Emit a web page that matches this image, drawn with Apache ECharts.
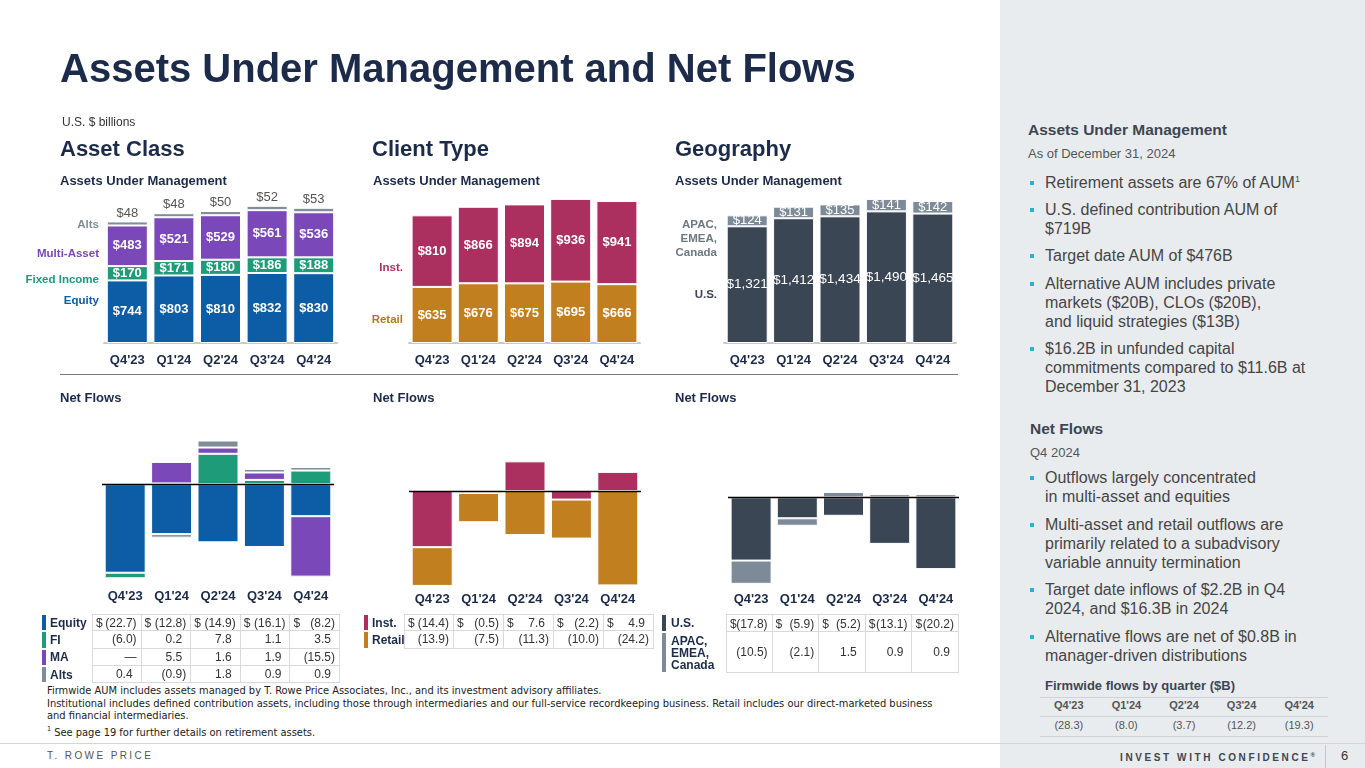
<!DOCTYPE html>
<html>
<head>
<meta charset="utf-8">
<script src="https://cdn.jsdelivr.net/npm/echarts@6/dist/echarts.min.js"></script>
<style>
  html,body{margin:0;padding:0;background:#fff;}
  body{width:1365px;height:768px;position:relative;overflow:hidden;font-family:"Liberation Sans",Arial,sans-serif;}
  #side{position:absolute;left:1000px;top:0;width:365px;height:768px;background:#e9ecef;}
  #chart{position:absolute;left:0;top:0;width:1000px;height:620px;z-index:1;}
  .txt{position:absolute;white-space:nowrap;z-index:2;}
  .navy{color:#1c2b49;}
  .bul{position:absolute;left:1045px;font-size:16px;line-height:19px;color:#454545;white-space:nowrap;z-index:2;}
  .bul:before{content:"";position:absolute;left:-15px;top:8px;width:4px;height:4px;background:#2bb0d2;}
  .cell{position:absolute;z-index:2;font-size:12px;color:#333;box-sizing:border-box;border-right:1px solid #d9d9d9;border-bottom:1px solid #d9d9d9;}
  .cell .d{position:absolute;left:3px;}
  .cell .v{position:absolute;right:4px;}
  .lab{position:absolute;z-index:2;font-size:12px;font-weight:bold;color:#1c2b49;white-space:nowrap;}
  .bar{position:absolute;z-index:2;}
</style>
</head>
<body>
<div id="side"></div>
<div id="chart"></div>

<!-- Titles -->
<div class="txt navy" style="left:60px;top:48px;font-size:40px;line-height:40px;font-weight:bold;">Assets Under Management and Net Flows</div>
<div class="txt" style="left:62px;top:115px;font-size:12px;line-height:14px;color:#333;">U.S. $ billions</div>
<div class="txt navy" style="left:60px;top:137px;font-size:22px;line-height:24px;font-weight:bold;">Asset Class</div>
<div class="txt navy" style="left:372px;top:137px;font-size:22px;line-height:24px;font-weight:bold;">Client Type</div>
<div class="txt navy" style="left:675px;top:137px;font-size:22px;line-height:24px;font-weight:bold;">Geography</div>
<div class="txt navy" style="left:60px;top:173px;font-size:13px;line-height:15px;font-weight:bold;">Assets Under Management</div>
<div class="txt navy" style="left:373px;top:173px;font-size:13px;line-height:15px;font-weight:bold;">Assets Under Management</div>
<div class="txt navy" style="left:675px;top:173px;font-size:13px;line-height:15px;font-weight:bold;">Assets Under Management</div>
<div class="txt" style="left:60px;top:374px;width:898px;height:0;border-top:1.5px solid #7a7a7a;"></div>
<div class="txt navy" style="left:60px;top:390px;font-size:13px;line-height:15px;font-weight:bold;">Net Flows</div>
<div class="txt navy" style="left:373px;top:390px;font-size:13px;line-height:15px;font-weight:bold;">Net Flows</div>
<div class="txt navy" style="left:675px;top:390px;font-size:13px;line-height:15px;font-weight:bold;">Net Flows</div>

<!-- Left axis legends -->
<div class="txt" style="left:0;width:99px;text-align:right;top:217px;font-size:11.5px;line-height:14px;font-weight:bold;color:#7f8c99;">Alts</div>
<div class="txt" style="left:0;width:99px;text-align:right;top:246px;font-size:11.5px;line-height:14px;font-weight:bold;color:#7b47b8;">Multi-Asset</div>
<div class="txt" style="left:0;width:99px;text-align:right;top:272px;font-size:11.5px;line-height:14px;font-weight:bold;color:#1a9b7a;">Fixed Income</div>
<div class="txt" style="left:0;width:99px;text-align:right;top:293px;font-size:11.5px;line-height:14px;font-weight:bold;color:#0b5da7;">Equity</div>
<div class="txt" style="left:300px;width:103px;text-align:right;top:260px;font-size:11.5px;line-height:14px;font-weight:bold;color:#ad3060;">Inst.</div>
<div class="txt" style="left:300px;width:103px;text-align:right;top:312px;font-size:11.5px;line-height:14px;font-weight:bold;color:#b07a1f;">Retail</div>
<div class="txt" style="left:600px;width:117px;text-align:right;top:217px;font-size:11.5px;line-height:14px;font-weight:bold;color:#6d7883;">APAC,<br>EMEA,<br>Canada</div>
<div class="txt" style="left:600px;width:117px;text-align:right;top:287px;font-size:11.5px;line-height:14px;font-weight:bold;color:#3b4654;">U.S.</div>

<!-- Footnotes -->
<div class="txt" style="left:47px;top:685px;font-size:11px;line-height:12.7px;color:#222;font-family:'Liberation Sans Narrow','DejaVu Sans Condensed',sans-serif;">
Firmwide AUM includes assets managed by T. Rowe Price Associates, Inc., and its investment advisory affiliates.<br>
Institutional includes defined contribution assets, including those through intermediaries and our full-service recordkeeping business. Retail includes our direct-marketed business<br>
and financial intermediaries.<br>
<sup style="font-size:7px;">1</sup> See page 19 for further details on retirement assets.
</div>
<div class="txt" style="left:0;top:743px;width:1365px;height:0;border-top:1px solid #d4d4d4;"></div>
<div class="txt" style="left:47px;top:750px;font-size:10px;line-height:11px;letter-spacing:2.4px;color:#555;">T. ROWE PRICE</div>
<div class="txt" style="left:1120px;top:750px;font-size:10px;line-height:11px;letter-spacing:2.6px;font-weight:bold;color:#3e4651;">INVEST WITH CONFIDENCE<sup style="font-size:6px;">®</sup></div>
<div class="txt" style="left:1325px;top:745px;width:0;height:23px;border-left:1px solid #c6c6c6;"></div>
<div class="txt" style="left:1341px;top:748px;font-size:13px;line-height:15px;color:#333;">6</div>

<!-- Sidebar -->
<div class="txt" style="left:1028px;top:121px;font-size:15.5px;line-height:18px;font-weight:bold;color:#3e4651;">Assets Under Management</div>
<div class="txt" style="left:1028px;top:146px;font-size:13px;line-height:15px;color:#555;">As of December 31, 2024</div>
<div class="bul" style="top:173px;">Retirement assets are 67% of AUM<sup style="font-size:9px;line-height:0;">1</sup></div>
<div class="bul" style="top:200px;">U.S. defined contribution AUM of<br>$719B</div>
<div class="bul" style="top:246px;">Target date AUM of $476B</div>
<div class="bul" style="top:274px;">Alternative AUM includes private<br>markets ($20B), CLOs ($20B),<br>and liquid strategies ($13B)</div>
<div class="bul" style="top:339px;">$16.2B in unfunded capital<br>commitments compared to $11.6B at<br>December 31, 2023</div>
<div class="txt" style="left:1030px;top:420px;font-size:15.5px;line-height:18px;font-weight:bold;color:#3e4651;">Net Flows</div>
<div class="txt" style="left:1030px;top:445px;font-size:13px;line-height:15px;color:#555;">Q4 2024</div>
<div class="bul" style="top:468px;">Outflows largely concentrated<br>in multi-asset and equities</div>
<div class="bul" style="top:515px;">Multi-asset and retail outflows are<br>primarily related to a subadvisory<br>variable annuity termination</div>
<div class="bul" style="top:580px;">Target date inflows of $2.2B in Q4<br>2024, and $16.3B in 2024</div>
<div class="bul" style="top:627px;">Alternative flows are net of $0.8B in<br>manager-driven distributions</div>
<div class="txt" style="left:1045px;top:678px;font-size:13px;line-height:15px;font-weight:bold;color:#3e4651;">Firmwide flows by quarter ($B)</div>
<div id="tables"></div>

<script>
// ---------- DATA ----------
const quarters = ["Q4'23", "Q1'24", "Q2'24", "Q3'24", "Q4'24"];
// AUM by asset class
const aumEquity = [744, 803, 810, 832, 830];
const aumFixedIncome = [170, 171, 180, 186, 188];
const aumMultiAsset = [483, 521, 529, 561, 536];
const aumAlts = [48, 48, 50, 52, 53];
// AUM by client type
const aumInst = [810, 866, 894, 936, 941];
const aumRetail = [635, 676, 675, 695, 666];
// AUM by geography
const aumUS = [1321, 1412, 1434, 1490, 1465];
const aumIntl = [124, 131, 135, 141, 142];
// Net flows by asset class
const flowEquity = [-22.7, -12.8, -14.9, -16.1, -8.2];
const flowFI = [-6.0, 0.2, 7.8, 1.1, 3.5];
const flowMA = [null, 5.5, 1.6, 1.9, -15.5];
const flowAlts = [0.4, -0.9, 1.8, 0.9, 0.9];
// Net flows by client type
const flowInst = [-14.4, -0.5, 7.6, -2.2, 4.9];
const flowRetail = [-13.9, -7.5, -11.3, -10.0, -24.2];
// Net flows by geography
const flowUS = [-17.8, -5.9, -5.2, -13.1, -20.2];
const flowIntl = [-10.5, -2.1, 1.5, 0.9, 0.9];
// Firmwide flows
const firmwideFlows = [-28.3, -8.0, -3.7, -12.2, -19.3];

// ---------- COLORS ----------
const C = {
  equity: '#0c5da6', fi: '#1e9b78', ma: '#7a48b9', alts: '#7f8c99',
  inst: '#ab2f5f', retail: '#c17f1f', us: '#3b4654', intl: '#7d8a98', navy: '#1c2b49'
};

// ---------- CHART ----------
const grids = [
  {left: 104, top: 200, width: 233, height: 143},
  {left: 409, top: 199, width: 231, height: 144},
  {left: 724, top: 199, width: 232, height: 144},
  {left: 102, top: 437.4, width: 232, height: 140.4},
  {left: 409, top: 444.2, width: 232, height: 141.2},
  {left: 728, top: 454.7, width: 231, height: 128.6}
];
const yRanges = [[0, 1700], [0, 1630], [0, 1630], [-24, 12], [-24.2, 12], [-24.2, 12]];
const labelMargins = [11, 11, 11, 12, 8, 10];

const xAxes = grids.map((g, i) => ({
  type: 'category', gridIndex: i, data: quarters,
  axisTick: {show: false},
  axisLine: {show: i < 3, onZero: false, lineStyle: {color: '#c9c9c9', width: 2}},
  axisLabel: {color: C.navy, fontWeight: 'bold', fontSize: 13, margin: labelMargins[i], fontFamily: 'Liberation Sans, Arial'}
}));
const yAxes = grids.map((g, i) => ({
  type: 'value', gridIndex: i, min: yRanges[i][0], max: yRanges[i][1], show: false, splitLine: {show: false}
}));

const money = v => '$' + Number(v).toLocaleString('en-US');
function bar(name, data, color, gi, label, extra) {
  const s = {
    name: name, type: 'bar', data: data, xAxisIndex: gi, yAxisIndex: gi, stack: 'g' + gi,
    barWidth: 41, clip: true,
    itemStyle: {color: color, borderColor: '#fff', borderWidth: 1},
    label: label ? Object.assign({show: true, formatter: p => money(p.value), fontFamily: 'Liberation Sans, Arial'}, label) : {show: false},
    emphasis: {disabled: true}
  };
  return Object.assign(s, extra || {});
}
const zeroLine = {markLine: {silent: true, symbol: ['none', 'none'], label: {show: false},
  lineStyle: {color: '#000', width: 1.3, type: 'solid'}, data: [{yAxis: 0}]}};
const inWhiteBold = {position: 'inside', color: '#fff', fontWeight: 'bold', fontSize: 13};

const series = [
  bar('Equity', aumEquity, C.equity, 0, inWhiteBold),
  bar('Fixed Income', aumFixedIncome, C.fi, 0, inWhiteBold),
  bar('Multi-Asset', aumMultiAsset, C.ma, 0, inWhiteBold),
  bar('Alts', aumAlts, C.alts, 0, {position: 'top', distance: 2, color: '#555', fontSize: 13}),
  bar('Retail', aumRetail, C.retail, 1, inWhiteBold),
  bar('Inst.', aumInst, C.inst, 1, inWhiteBold),
  bar('U.S.', aumUS, C.us, 2, {position: 'inside', color: '#fff', fontSize: 13.5}),
  bar('APAC, EMEA, Canada', aumIntl, C.intl, 2, {position: 'inside', color: '#fff', fontSize: 13}),
  bar('Equity flows', flowEquity, C.equity, 3, null, zeroLine),
  bar('FI flows', flowFI, C.fi, 3, null),
  bar('MA flows', flowMA, C.ma, 3, null),
  bar('Alts flows', flowAlts, C.alts, 3, null),
  bar('Inst. flows', flowInst, C.inst, 4, null, zeroLine),
  bar('Retail flows', flowRetail, C.retail, 4, null),
  bar('U.S. flows', flowUS, C.us, 5, null, zeroLine),
  bar('Intl flows', flowIntl, C.intl, 5, null)
];

const chart = echarts.init(document.getElementById('chart'), null, {renderer: 'canvas'});
chart.setOption({
  animation: false,
  backgroundColor: 'transparent',
  grid: grids.map(g => Object.assign({containLabel: false}, g)),
  xAxis: xAxes,
  yAxis: yAxes,
  series: series
});

// ---------- TABLES (built from the same arrays) ----------
function fmt(v) {
  if (v === null || v === undefined) return '—';
  return v < 0 ? '(' + Math.abs(v).toFixed(1) + ')' : v.toFixed(1);
}
const host = document.getElementById('tables');
function addDiv(cls, style, html) {
  const d = document.createElement('div');
  d.className = cls; d.setAttribute('style', style); d.innerHTML = html; host.appendChild(d); return d;
}
function buildTable(opt) {
  let y = opt.top;
  opt.rows.forEach((r, ri) => {
    const h = r.h;
    addDiv('bar', `left:${opt.barX}px;top:${y + 1}px;width:4px;height:${h - 2}px;background:${r.color};`, '');
    addDiv('lab', `left:${opt.labX}px;top:${y + (h - r.lines * 12) / 2}px;line-height:12px;`, r.label);
    r.data.forEach((v, ci) => {
      const x = opt.cellX + ci * opt.cellW;
      const txt = fmt(v);
      const pr = (v !== null && v >= 0) ? 8 : 4;
      const dollar = ri === 0 ? '<span class="d">$</span>' : '';
      addDiv('cell', `left:${x}px;top:${y}px;width:${opt.cellW}px;height:${h}px;line-height:${h}px;` +
        (ri === 0 ? 'border-top:1px solid #d9d9d9;' : '') + (ci === 0 ? 'border-left:1px solid #d9d9d9;' : ''),
        dollar + `<span class="v" style="right:${pr}px">${txt}</span>`);
    });
    y += h;
  });
}
buildTable({top: 614, barX: 42, labX: 50, cellX: 92, cellW: 49.6, rows: [
  {label: 'Equity', data: flowEquity, color: C.equity, h: 17.3, lines: 1},
  {label: 'FI', data: flowFI, color: C.fi, h: 17.3, lines: 1},
  {label: 'MA', data: flowMA, color: C.ma, h: 17.3, lines: 1},
  {label: 'Alts', data: flowAlts, color: C.alts, h: 17.3, lines: 1}
]});
buildTable({top: 614, barX: 364, labX: 372, cellX: 404, cellW: 50, rows: [
  {label: 'Inst.', data: flowInst, color: C.inst, h: 17.3, lines: 1},
  {label: 'Retail', data: flowRetail, color: C.retail, h: 17.3, lines: 1}
]});
buildTable({top: 614, barX: 662, labX: 671, cellX: 726, cellW: 46.6, rows: [
  {label: 'U.S.', data: flowUS, color: C.us, h: 18, lines: 1},
  {label: 'APAC,<br>EMEA,<br>Canada', data: flowIntl, color: C.intl, h: 41, lines: 3}
]});

// Firmwide flows table
(function () {
  const x0 = 1040, w = 288 / 5;
  addDiv('txt', `left:${x0}px;top:697px;width:288px;height:0;border-top:1px solid #cfd3d7;`, '');
  addDiv('txt', `left:${x0}px;top:716px;width:288px;height:0;border-top:1px solid #cfd3d7;`, '');
  addDiv('txt', `left:${x0}px;top:736px;width:288px;height:0;border-top:1px solid #cfd3d7;`, '');
  quarters.forEach((q, i) => {
    addDiv('txt', `left:${x0 + i * w}px;width:${w}px;text-align:center;top:699px;font-size:11px;line-height:13px;font-weight:bold;color:#555;`, q);
    addDiv('txt', `left:${x0 + i * w}px;width:${w}px;text-align:center;top:719px;font-size:11px;line-height:13px;color:#555;`, fmt(firmwideFlows[i]));
  });
})();
</script>
</body>
</html>
